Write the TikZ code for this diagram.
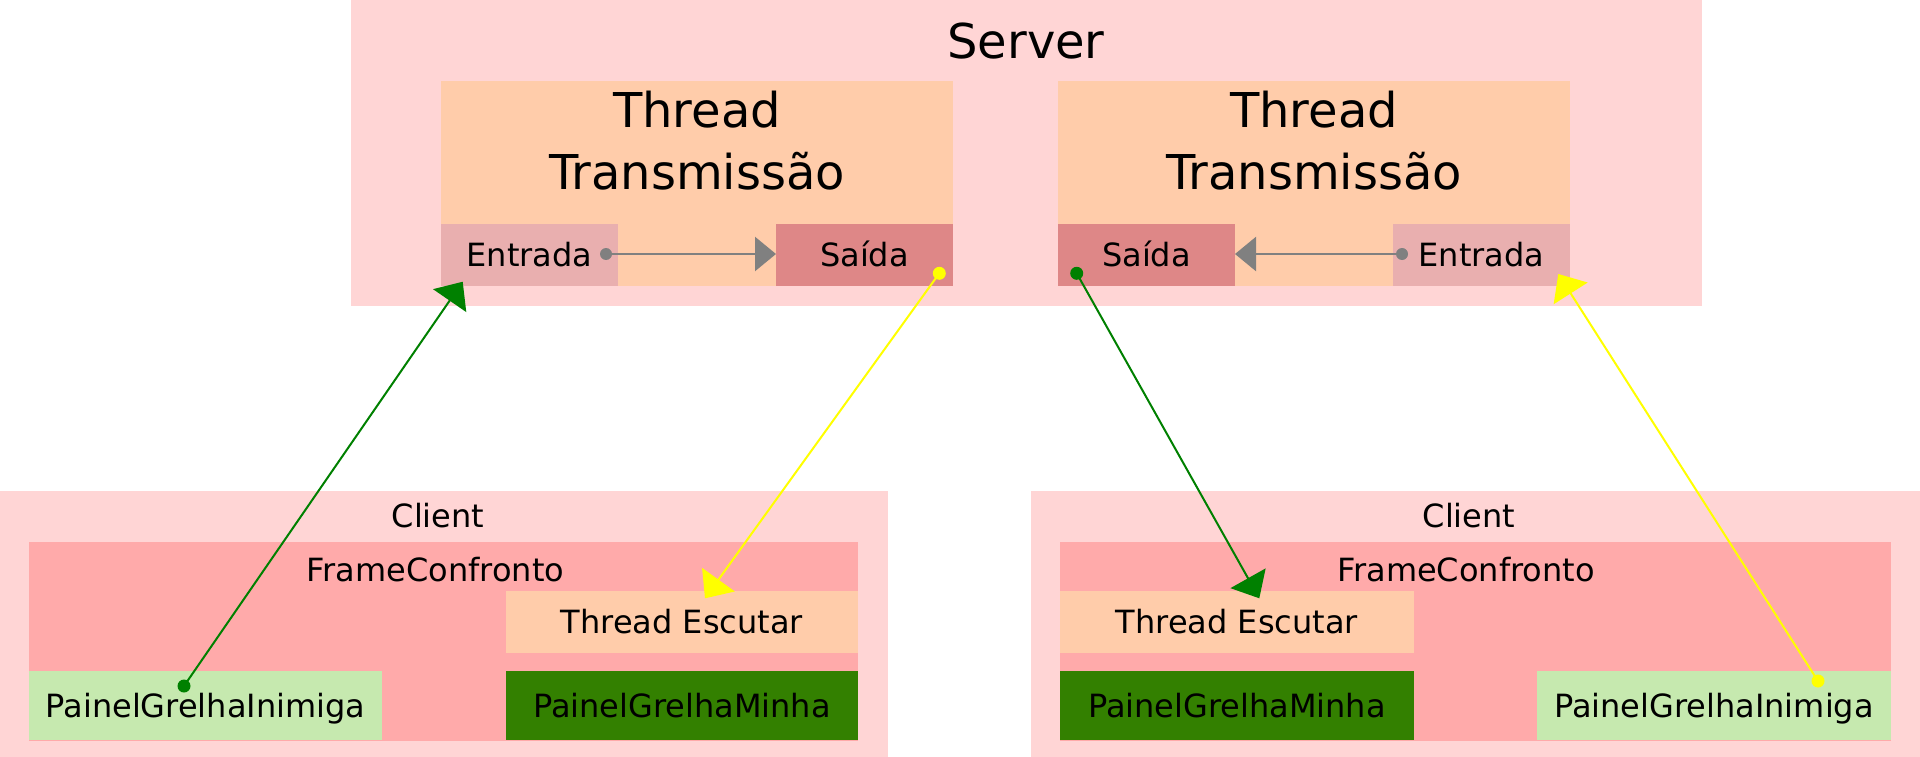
\documentclass[tikz,border=0pt]{standalone}
\usepackage{fontspec}
\setmainfont{DejaVu Sans}
\usetikzlibrary{arrows.meta}
\definecolor{srvbg}{HTML}{FFD5D5}
\definecolor{thrbg}{HTML}{FFCCAA}
\definecolor{entbg}{HTML}{E9AFAF}
\definecolor{saibg}{HTML}{DE8787}
\definecolor{frmbg}{HTML}{FFAAAA}
\definecolor{inibg}{HTML}{C6E9AF}
\definecolor{minbg}{HTML}{338000}
\definecolor{gline}{HTML}{008000}
\definecolor{yline}{HTML}{FFFF00}
\definecolor{grline}{HTML}{808080}
\tikzset{
  box/.style={inner sep=0pt, outer sep=0pt, anchor=north west, draw=none},
  lbl/.style={font=\fontsize{32}{38}\selectfont, text height=23.3pt, text depth=0pt, inner sep=0pt},
  big/.style={font=\fontsize{48}{62}\selectfont, inner sep=0pt},
  small/.style={font=\fontsize{32}{38}\selectfont, inner sep=0pt},
  conn/.style={line width=2pt, -{Triangle[length=23pt,width=40pt]}},
  grconn/.style={line width=2.3pt, draw=grline, -{Triangle[length=21pt,width=34pt]}},
}
\begin{document}
\begin{tikzpicture}[x=1pt,y=-1pt]
\useasboundingbox (0,0) rectangle (1920,757);
% Server
\node[box, fill=srvbg, minimum width=1351pt, minimum height=306pt] (server) at (351,0) {};
\node[big, anchor=base] (servert) at (1026,59) {Server};
% left thread
\node[box, fill=thrbg, minimum width=512pt, minimum height=205pt] (thrL) at (441,81) {};
\node[big, anchor=base] (thrLt1) at (697,127.7) {Thread};
\node[big, anchor=base] (thrLt2) at (697,189.3) {Transmissão};
\node[box, fill=entbg, minimum width=177pt, minimum height=62pt, lbl] (entL) at (441,224) {Entrada};
\node[box, fill=saibg, minimum width=177pt, minimum height=62pt, lbl] (saiL) at (776,224) {Saída};
% right thread
\node[box, fill=thrbg, minimum width=512pt, minimum height=205pt] (thrR) at (1058,81) {};
\node[big, anchor=base] (thrRt1) at (1314,127.7) {Thread};
\node[big, anchor=base] (thrRt2) at (1314,189.3) {Transmissão};
\node[box, fill=saibg, minimum width=177pt, minimum height=62pt, lbl] (saiR) at (1058,224) {Saída};
\node[box, fill=entbg, minimum width=177pt, minimum height=62pt, lbl] (entR) at (1393,224) {Entrada};
% left client
\node[box, fill=srvbg, minimum width=888pt, minimum height=267pt] (cliL) at (0,490.5) {};
\node[small, anchor=base] (cliLt) at (438,527) {Client};
\node[box, fill=frmbg, minimum width=829pt, minimum height=199pt] (frmL) at (29,541.5) {};
\node[small, anchor=base] (frmLt) at (435.5,581.7) {FrameConfronto};
\node[box, fill=thrbg, minimum width=352pt, minimum height=62pt, lbl] (escL) at (506,591) {Thread Escutar};
\node[box, fill=minbg, minimum width=352pt, minimum height=69pt, lbl] (minL) at (506,671) {PainelGrelhaMinha};
\node[box, fill=inibg, minimum width=353pt, minimum height=69pt, lbl] (iniL) at (29,671) {PainelGrelhaInimiga};
% right client
\node[box, fill=srvbg, minimum width=889pt, minimum height=267pt] (cliR) at (1031,490.5) {};
\node[small, anchor=base] (cliRt) at (1469,527) {Client};
\node[box, fill=frmbg, minimum width=831pt, minimum height=199pt] (frmR) at (1060,541.5) {};
\node[small, anchor=base] (frmRt) at (1466,581.7) {FrameConfronto};
\node[box, fill=thrbg, minimum width=354pt, minimum height=62pt, lbl] (escR) at (1060,591) {Thread Escutar};
\node[box, fill=minbg, minimum width=354pt, minimum height=69pt, lbl] (minR) at (1060,671) {PainelGrelhaMinha};
\node[box, fill=inibg, minimum width=354pt, minimum height=69pt, lbl] (iniR) at (1537,671) {PainelGrelhaInimiga};
% connector end points
\coordinate (gdL) at (184,686);
\coordinate (gtL) at (462.7,281.7);
\coordinate (ydL) at (939.3,273.3);
\coordinate (ytL) at (705,598.3);
\coordinate (gdR) at (1076.7,273.3);
\coordinate (gtR) at (1259.3,598.3);
\coordinate (ydR) at (1818,681);
\coordinate (ytR) at (1558.3,274);
\coordinate (grdL) at (606,254);
\coordinate (grdR) at (1402,254);
% gray internal arrows
\draw[grconn] (grdL) -- (grdL -| saiL.west);
\fill[grline] (grdL) circle (6pt);
\draw[grconn] (grdR) -- (grdR -| saiR.east);
\fill[grline] (grdR) circle (6pt);
% green / yellow connectors
\draw[conn, draw=gline, fill=gline] (gdL) -- (gtL);
\fill[gline] (gdL) circle (6.5pt);
\draw[conn, draw=yline, fill=yline] (ydL) -- (ytL);
\fill[yline] (ydL) circle (6.5pt);
\draw[conn, draw=gline, fill=gline] (gdR) -- (gtR);
\fill[gline] (gdR) circle (6.5pt);
\draw[conn, draw=yline, fill=yline] (ydR) -- (ytR);
\fill[yline] (ydR) circle (6.5pt);
\end{tikzpicture}
\end{document}
